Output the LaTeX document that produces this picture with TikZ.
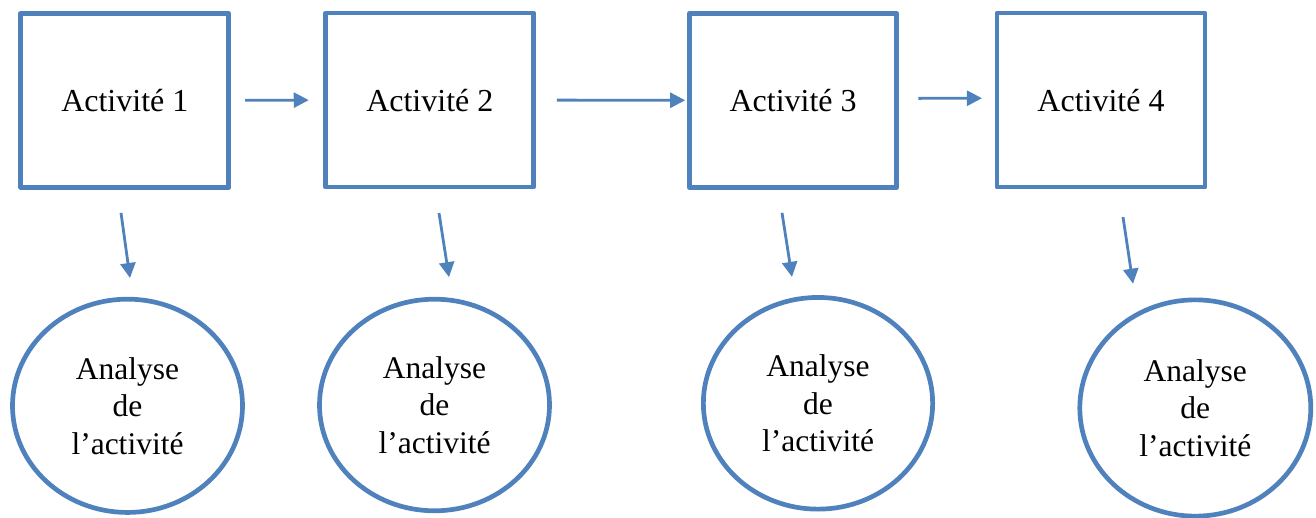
\documentclass[tikz,border=0pt]{standalone}
\usepackage{fontspec}
\setmainfont{Liberation Serif}
\usetikzlibrary{shapes.geometric,arrows.meta,calc}
\definecolor{obl}{HTML}{4F81BD}
\begin{document}
\begin{tikzpicture}[x=1pt,y=-1pt,
  actbox/.style={draw=obl,line width=4.7pt,line join=round,rectangle,minimum width=208pt,minimum height=174pt,inner sep=0pt,font=\fontsize{32}{38}\selectfont},
  anabox/.style={draw=obl,line width=4.7pt,ellipse,inner sep=0pt,align=center,font=\fontsize{31.5}{37.5}\selectfont},
  arr/.style={draw=obl,line width=2.8pt,-{Triangle[length=15pt,width=15pt]}}]
\useasboundingbox (0,0) rectangle (1316,518);
\node[actbox] (b1) at (124.8,100.3) {Activité 1};
\node[actbox] (b2) at (429.8,100.1) {Activité 2};
\node[actbox,minimum width=207.2pt] (b3) at (793.1,100.3) {Activité 3};
\node[actbox] (b4) at (1101,100.1) {Activité 4};
\node[anabox,minimum width=230pt,minimum height=213.3pt] (e1) at (127.5,405.8) {Analyse\\de\\l’activité};
\node[anabox,minimum width=230pt,minimum height=211.6pt] (e2) at (434.5,405) {Analyse\\de\\l’activité};
\node[anabox,minimum width=229.3pt,minimum height=211.7pt] (e3) at (818,403.3) {Analyse\\de\\l’activité};
\node[anabox,minimum width=231pt,minimum height=216.3pt] (e4) at (1195.3,408) {Analyse\\de\\l’activité};
\draw[arr,shorten <=14pt,shorten >=14.7pt] (b1.east) -- (b2.west);
\draw[arr,shorten <=20.8pt,shorten >=2pt] (b2.east) -- (b3.west);
\draw[arr,shorten <=19.3pt,shorten >=12.7pt] ([yshift=1.9pt]b3.east) -- ([yshift=1.9pt]b4.west);
\draw[arr] ($(b1.south)+(-3.8,23.2)$) -- ($(e1.north)+(2.5,-18.8)$);
\draw[arr] ($(b2.south)+(9.2,23.6)$) -- ($(e2.north)+(14.5,-19.7)$);
\draw[arr] ($(b3.south)+(-11.1,23.2)$) -- ($(e3.north)+(-26,-18.2)$);
\draw[arr] ($(b4.south)+(22,27.6)$) -- ($(e4.north)+(-62.3,-13.8)$);
\end{tikzpicture}
\end{document}
